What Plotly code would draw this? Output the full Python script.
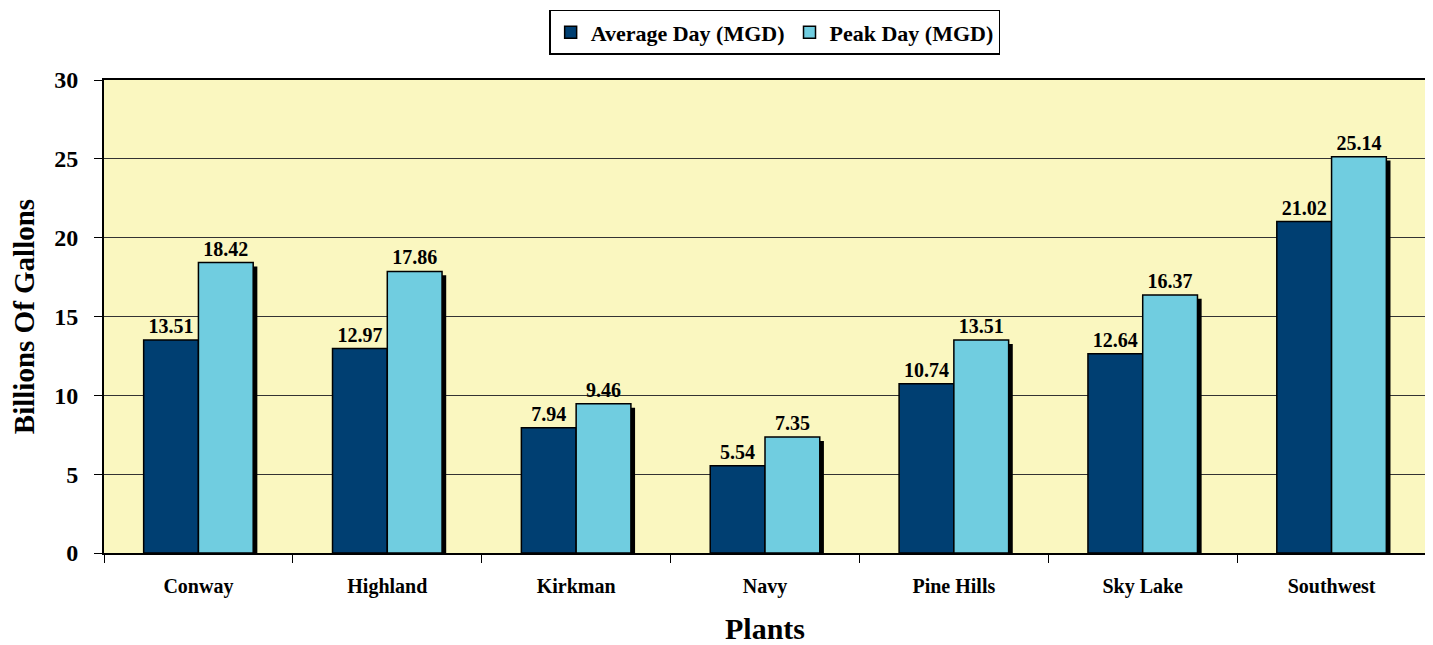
"""Average vs peak day flow by plant"""
import plotly.graph_objects as go

plants = ["Conway", "Highland", "Kirkman", "Navy", "Pine Hills", "Sky Lake", "Southwest"]
average_day = [13.51, 12.97, 7.94, 5.54, 10.74, 12.64, 21.02]
peak_day = [18.42, 17.86, 9.46, 7.35, 13.51, 16.37, 25.14]

FONT = "Liberation Serif"
DARK = "#003F72"
LIGHT = "#70CDE0"
BAR_W = 0.29

fig = go.Figure()

# drop shadow behind the peak bars
fig.add_trace(go.Bar(
    x=plants, y=peak_day, base=-0.25,
    offset=0.022, width=BAR_W,
    marker=dict(color="black", line=dict(width=0)),
    showlegend=False, hoverinfo="skip",
))

fig.add_trace(go.Bar(
    x=plants, y=average_day, name="<b>Average Day (MGD)</b>",
    offset=-BAR_W, width=BAR_W,
    marker=dict(color=DARK, line=dict(color="black", width=1.5)),
    text=[f"<b>{v:.2f}</b>" for v in average_day], textposition="outside",
    textfont=dict(family=FONT, size=20, color="black"),
    cliponaxis=False,
))

fig.add_trace(go.Bar(
    x=plants, y=peak_day, name="<b>Peak Day (MGD)</b>",
    offset=0, width=BAR_W,
    marker=dict(color=LIGHT, line=dict(color="black", width=1.5)),
    text=[f"<b>{v:.2f}</b>" for v in peak_day], textposition="outside",
    textfont=dict(family=FONT, size=20, color="black"),
    cliponaxis=False,
))

# page body adds ~8px offset, so the figure is sized a bit smaller
fig.update_layout(
    barmode="overlay",
    width=1425, height=637,
    margin=dict(l=96, r=7, t=72, b=92, autoexpand=False),
    paper_bgcolor="white",
    plot_bgcolor="#FAF7C0",
    font=dict(family=FONT, color="black"),
    showlegend=True,
    legend=dict(
        orientation="h", xref="container", x=0.538, xanchor="center",
        yref="container", y=0.997, yanchor="top",
        bordercolor="black", borderwidth=1.5, bgcolor="white",
        font=dict(family=FONT, size=22, color="black"),
        traceorder="normal", itemwidth=30,
    ),
    uniformtext=dict(mode="show", minsize=20),
)

fig.update_xaxes(
    tickson="boundaries", ticks="outside", ticklen=8, tickcolor="black",
    tickfont=dict(family=FONT, size=20, color="black"),
    ticklabelstandoff=14,
    title=dict(text="<b>Plants</b>", font=dict(family=FONT, size=30), standoff=23),
    showline=True, linecolor="black", linewidth=2, mirror=True,
    tickprefix="<b>", ticksuffix="</b>", automargin=False,
)

fig.update_yaxes(
    range=[0, 30], dtick=5, ticks="outside", ticklen=8, tickcolor="black",
    tickfont=dict(family=FONT, size=24, color="black"),
    ticklabelstandoff=11,
    tickprefix="<b>", ticksuffix="</b>",
    title=dict(text="<b>Billions Of Gallons</b>", font=dict(family=FONT, size=29), standoff=14),
    showgrid=True, gridcolor="#333333", gridwidth=1,
    showline=True, linecolor="black", linewidth=2, mirror=True,
    zeroline=False, automargin=False,
)

fig.write_html("out.html")
